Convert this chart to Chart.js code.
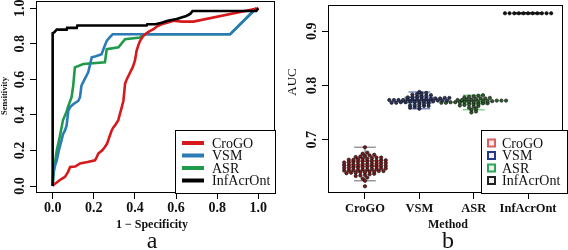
<!DOCTYPE html>
<html>
<head>
<meta charset="utf-8">
<script src="https://cdn.jsdelivr.net/npm/chart.js@4.4.1/dist/chart.umd.min.js"></script>
<style>
  html, body { margin: 0; padding: 0; background: #fff; }
  #wrap { position: relative; width: 568px; height: 250px; overflow: hidden; }
  #rocBox { position: absolute; left: 0; top: 0; }
  #aucBox { position: absolute; left: 284px; top: 0; }
</style>
</head>
<body>
<div id="wrap">
  <canvas id="rocBox" width="284" height="250"></canvas>
  <canvas id="aucBox" width="284" height="250"></canvas>
</div>
<script>
// methods
const methods = ['CroGO', 'VSM', 'ASR', 'InfAcrOnt'];

// panel a : ROC curves (1 - specificity, sensitivity)
const crogoFpr = [0, 0.003, 0.02, 0.035, 0.05, 0.06, 0.075, 0.085, 0.11, 0.133, 0.17, 0.206, 0.215, 0.222, 0.24, 0.254, 0.265, 0.27, 0.28, 0.287, 0.295, 0.303, 0.319, 0.328, 0.336, 0.344, 0.352, 0.36, 0.377, 0.39, 0.4, 0.408, 0.416, 0.425, 0.437, 0.449, 0.47, 0.49, 0.51, 0.53, 0.56, 0.587, 0.63, 0.684, 1.0];
const crogoTpr = [0, 0.006, 0.02, 0.034, 0.045, 0.052, 0.08, 0.108, 0.11, 0.127, 0.135, 0.145, 0.165, 0.183, 0.2, 0.22, 0.24, 0.257, 0.29, 0.313, 0.33, 0.341, 0.37, 0.41, 0.444, 0.48, 0.575, 0.6, 0.64, 0.67, 0.705, 0.761, 0.79, 0.817, 0.84, 0.854, 0.87, 0.882, 0.9, 0.91, 0.92, 0.93, 0.925, 0.925, 1.0];
const vsmFpr = [0, 0.003, 0.01, 0.02, 0.03, 0.043, 0.05, 0.06, 0.068, 0.076, 0.085, 0.1, 0.125, 0.133, 0.14, 0.155, 0.173, 0.19, 0.21, 0.238, 0.25, 0.263, 0.28, 0.292, 0.863, 0.99];
const vsmTpr = [0, 0.08, 0.11, 0.145, 0.2, 0.257, 0.29, 0.313, 0.341, 0.425, 0.444, 0.46, 0.48, 0.5, 0.565, 0.6, 0.64, 0.724, 0.73, 0.742, 0.78, 0.817, 0.84, 0.854, 0.854, 1.0];
const asrFpr = [0, 0.003, 0.01, 0.02, 0.035, 0.05, 0.068, 0.076, 0.092, 0.1, 0.108, 0.149, 0.254, 0.263, 0.32, 0.352, 0.425, 0.44, 0.863, 0.99];
const asrTpr = [0, 0.05, 0.12, 0.2, 0.28, 0.37, 0.42, 0.45, 0.5, 0.565, 0.668, 0.687, 0.696, 0.77, 0.78, 0.826, 0.835, 0.854, 0.854, 1.0];
const infFpr = [0, 0, 0.006, 0.02, 0.068, 0.07, 0.117, 0.12, 0.457, 0.46, 0.5, 0.53, 0.56, 0.603, 0.63, 0.65, 0.67, 0.68, 0.99, 1.0];
const infTpr = [0, 0.86, 0.863, 0.88, 0.88, 0.89, 0.89, 0.903, 0.903, 0.91, 0.91, 0.919, 0.93, 0.94, 0.95, 0.957, 0.97, 0.985, 0.985, 1.0];
const rocTicks = [0, 0.2, 0.4, 0.6, 0.8, 1.0];

// panel b : AUC per resampling
const crogoAuc = [0.614, 0.624, 0.628, 0.630,
  0.633, 0.634, 0.635, 0.636, 0.637,
  0.638, 0.639, 0.639, 0.640, 0.640, 0.641, 0.641, 0.642, 0.642,
  0.643, 0.643, 0.644, 0.644, 0.645, 0.645, 0.646, 0.646, 0.647, 0.647,
  0.648, 0.648, 0.649, 0.649, 0.650, 0.650, 0.651, 0.651, 0.652, 0.652,
  0.653, 0.653, 0.654, 0.654, 0.655, 0.655, 0.656, 0.656, 0.657, 0.657,
  0.658, 0.658, 0.659, 0.659, 0.660, 0.660, 0.661, 0.661, 0.662, 0.662,
  0.663, 0.663, 0.664, 0.665, 0.665, 0.666, 0.667, 0.667,
  0.668, 0.669, 0.670, 0.671, 0.672,
  0.674, 0.676, 0.686];
const vsmAuc = [0.757, 0.759, 0.760, 0.761, 0.762, 0.762, 0.763, 0.764, 0.765, 0.766, 0.767, 0.768, 0.768, 0.769, 0.769, 0.770, 0.770, 0.770, 0.771, 0.771, 0.771, 0.772, 0.772, 0.772, 0.773, 0.773, 0.773, 0.773, 0.774, 0.774, 0.774, 0.775, 0.775, 0.775, 0.776, 0.776, 0.777, 0.777, 0.778, 0.778, 0.779, 0.780, 0.781, 0.782, 0.783, 0.784, 0.785, 0.786, 0.788];
const asrAuc = [0.750, 0.752, 0.755, 0.757, 0.759, 0.761, 0.762, 0.763, 0.764, 0.765, 0.766, 0.766, 0.767, 0.767, 0.768, 0.768, 0.769, 0.769, 0.769, 0.770, 0.770, 0.770, 0.770, 0.771, 0.771, 0.771, 0.772, 0.772, 0.772, 0.773, 0.773, 0.774, 0.774, 0.775, 0.776, 0.776, 0.777, 0.778, 0.779, 0.780, 0.781, 0.782];
const infAuc = [0.933, 0.933, 0.933, 0.933, 0.933, 0.933, 0.933, 0.933, 0.933, 0.933, 0.933];
// box summaries (lower whisker, q1, median, q3, upper whisker)
const boxLow = [0.624, 0.757, 0.755, 0.933];
const boxQ1 = [0.643, 0.768, 0.766, 0.933];
const boxMed = [0.652, 0.773, 0.770, 0.933];
const boxQ3 = [0.661, 0.778, 0.774, 0.933];
const boxHigh = [0.686, 0.788, 0.782, 0.933];
const aucTicks = [0.7, 0.8, 0.9];

const SERIF = '"Liberation Serif", "DejaVu Serif", serif';
const lineColors = ['#d7191c', '#2b7bb5', '#1f9a4a', '#000000'];
const dotColors = ['#7a1818', '#27315e', '#2f5a2c', '#111111'];
const boxColors = ['#e79a9a', '#7f8cc0', '#8ccf94', '#333333'];
const keyColors = ['#d9605e', '#22398f', '#2aa456', '#222222'];

const toPts = (xs, ys) => xs.map((x, i) => ({ x: x, y: ys[i] }));

// spread equal-ish values sideways (beeswarm rows)
const swarm = (vals, pos) => {
  const rows = {};
  vals.forEach((v) => {
    const k = Math.round(v / 0.005);
    (rows[k] = rows[k] || []).push(v);
  });
  const pts = [];
  Object.values(rows).forEach((row) => {
    row.forEach((v, j) => {
      pts.push({ x: pos + (j - (row.length - 1) / 2) * 0.085, y: v });
    });
  });
  return pts;
};

const fixedTicks = (list) => (scale) => {
  scale.ticks = list.map((v) => ({ value: v }));
};

// draws frame, rotated y labels, titles, legend
const decor = {
  id: 'decor',
  afterDraw(chart, args, opts) {
    const ctx = chart.ctx;
    const a = chart.chartArea;
    const ys = chart.scales.y;
    ctx.save();
    ctx.strokeStyle = '#000';
    ctx.lineWidth = 1;
    ctx.strokeRect(Math.round(a.left) + 0.5, Math.round(a.top) + 0.5,
      Math.round(a.right - a.left) - 1, Math.round(a.bottom - a.top) - 1);

    ctx.fillStyle = '#111';
    ctx.font = 'bold 14px ' + SERIF;
    ctx.textAlign = 'center';
    ctx.textBaseline = 'middle';
    ys.ticks.forEach((t) => {
      const py = ys.getPixelForValue(t.value);
      ctx.save();
      ctx.translate(opts.yLabelX, py);
      ctx.rotate(-Math.PI / 2);
      ctx.fillText(t.value.toFixed(1), 0, 0);
      ctx.restore();
    });

    ctx.save();
    ctx.font = opts.yTitleFont + ' ' + SERIF;
    ctx.translate(opts.yTitleX, opts.yTitleY);
    ctx.rotate(-Math.PI / 2);
    ctx.fillText(opts.yTitle, 0, 0);
    ctx.restore();

    ctx.font = 'bold 12px ' + SERIF;
    ctx.fillText(opts.xTitle, opts.xTitleX, 225);
    ctx.font = '24px ' + SERIF;
    ctx.fillText(opts.tag, opts.xTitleX, 242);

    // legend
    const lg = opts.legend;
    ctx.fillStyle = '#fff';
    ctx.fillRect(lg.x, lg.y, lg.w, lg.h);
    ctx.strokeStyle = '#000';
    ctx.strokeRect(lg.x + 0.5, lg.y + 0.5, lg.w, lg.h);
    ctx.font = '14px ' + SERIF;
    ctx.textAlign = 'left';
    methods.forEach((m, i) => {
      const cy = lg.y + 13 + i * 12.5;
      if (lg.kind === 'line') {
        ctx.strokeStyle = lineColors[i];
        ctx.lineWidth = 4;
        ctx.beginPath();
        ctx.moveTo(lg.x + 7, cy);
        ctx.lineTo(lg.x + 29, cy);
        ctx.stroke();
      } else {
        ctx.strokeStyle = keyColors[i];
        ctx.lineWidth = 2;
        ctx.fillStyle = '#f4eeee';
        ctx.fillRect(lg.x + 7, cy - 3.5, 7, 7);
        ctx.strokeRect(lg.x + 7, cy - 3.5, 7, 7);
      }
      ctx.fillStyle = '#111';
      ctx.fillText(m, lg.x + lg.tx, cy + 1);
    });
    ctx.restore();
  },
};

// box and whiskers under the points
const boxes = {
  id: 'boxes',
  beforeDatasetsDraw(chart) {
    const ctx = chart.ctx;
    const xs = chart.scales.x;
    const ys = chart.scales.y;
    ctx.save();
    methods.forEach((m, i) => {
      const pos = i + 1;
      const l = xs.getPixelForValue(pos - 0.26);
      const r = xs.getPixelForValue(pos + 0.26);
      const cl = xs.getPixelForValue(pos - 0.2);
      const cr = xs.getPixelForValue(pos + 0.2);
      const c = xs.getPixelForValue(pos);
      const yl = ys.getPixelForValue(boxLow[i]);
      const y1 = ys.getPixelForValue(boxQ1[i]);
      const ym = ys.getPixelForValue(boxMed[i]);
      const y3 = ys.getPixelForValue(boxQ3[i]);
      const yh = ys.getPixelForValue(boxHigh[i]);
      ctx.strokeStyle = i === 0 ? '#9a9a9a' : boxColors[i];
      ctx.lineWidth = 1.5;
      ctx.beginPath();
      ctx.moveTo(c, yh); ctx.lineTo(c, y3);
      ctx.moveTo(c, y1); ctx.lineTo(c, yl);
      ctx.moveTo(cl, yh); ctx.lineTo(cr, yh);
      ctx.moveTo(cl, yl); ctx.lineTo(cr, yl);
      ctx.stroke();
      ctx.strokeStyle = boxColors[i];
      ctx.strokeRect(l, y3, r - l, y1 - y3);
      ctx.lineWidth = 2.5;
      ctx.beginPath();
      ctx.moveTo(l, ym); ctx.lineTo(r, ym);
      ctx.stroke();
    });
    ctx.restore();
  },
};

const tickFont = { family: SERIF, size: 14, weight: 'bold' };

new Chart(document.getElementById('rocBox'), {
  type: 'scatter',
  data: {
    datasets: [
      { label: 'CroGO', data: toPts(crogoFpr, crogoTpr), order: 1 },
      { label: 'VSM', data: toPts(vsmFpr, vsmTpr), order: 2 },
      { label: 'ASR', data: toPts(asrFpr, asrTpr), order: 3 },
      { label: 'InfAcrOnt', data: toPts(infFpr, infTpr), order: 0 },
    ].map((d, i) => Object.assign(d, {
      showLine: true,
      borderColor: lineColors[i],
      borderWidth: 2.6,
      pointRadius: 0,
      fill: false,
    })),
  },
  options: {
    responsive: false,
    animation: false,
    layout: { padding: { top: 1, right: 9, left: 0, bottom: 0 } },
    plugins: {
      legend: { display: false },
      tooltip: { enabled: false },
      decor: {
        yLabelX: 20.5, yTitle: 'Sensitivity', yTitleFont: 'bold 8.5px', yTitleX: 5, yTitleY: 96,
        xTitle: '1 \u2212 Specificity', xTitleX: 152, tag: 'a',
        legend: { kind: 'line', x: 175, y: 130, w: 100, h: 63, tx: 37 },
      },
    },
    scales: {
      x: {
        type: 'linear', min: -0.081, max: 1.081,
        afterBuildTicks: fixedTicks(rocTicks),
        afterFit: (s) => { s.height = 57; },
        border: { display: false },
        grid: { drawOnChartArea: false, tickLength: 6, color: '#000' },
        ticks: { font: tickFont, color: '#111', padding: 1, maxRotation: 0, autoSkip: false,
          callback: (v) => v.toFixed(1) },
      },
      y: {
        type: 'linear', min: -0.039, max: 1.041,
        afterBuildTicks: fixedTicks(rocTicks),
        afterFit: (s) => { s.width = 36; },
        border: { display: false },
        grid: { drawOnChartArea: false, tickLength: 6, color: '#000' },
        ticks: { display: false },
      },
    },
  },
  plugins: [decor],
});

new Chart(document.getElementById('aucBox'), {
  type: 'scatter',
  data: {
    datasets: [crogoAuc, vsmAuc, asrAuc, infAuc].map((vals, i) => ({
      label: methods[i],
      data: swarm(vals, i + 1),
      pointRadius: 1.7,
      pointBackgroundColor: dotColors[i],
      pointBorderColor: '#111',
      pointBorderWidth: 0.6,
    })),
  },
  options: {
    responsive: false,
    animation: false,
    layout: { padding: { top: 1, right: 1, left: 0, bottom: 0 } },
    plugins: {
      legend: { display: false },
      tooltip: { enabled: false },
      decor: {
        yLabelX: 28, yTitle: 'AUC', yTitleFont: '13px', yTitleX: 9, yTitleY: 82,
        xTitle: 'Method', xTitleX: 164, tag: 'b',
        legend: { kind: 'box', x: 197, y: 130, w: 86, h: 63, tx: 21 },
      },
    },
    scales: {
      x: {
        type: 'linear', min: 0.32, max: 4.65,
        afterBuildTicks: fixedTicks([1, 2, 3, 4]),
        afterFit: (s) => { s.height = 57; },
        border: { display: false },
        grid: { drawOnChartArea: false, tickLength: 6, color: '#000' },
        ticks: { font: { family: SERIF, size: 12.5, weight: 'bold' }, color: '#111', padding: 2,
          maxRotation: 0, autoSkip: false, callback: (v) => methods[v - 1] },
      },
      y: {
        type: 'linear', min: 0.6016, max: 0.949,
        afterBuildTicks: fixedTicks(aucTicks),
        afterFit: (s) => { s.width = 44; },
        border: { display: false },
        grid: { drawOnChartArea: false, tickLength: 6, color: '#000' },
        ticks: { display: false },
      },
    },
  },
  plugins: [boxes, decor],
});
</script>
</body>
</html>
